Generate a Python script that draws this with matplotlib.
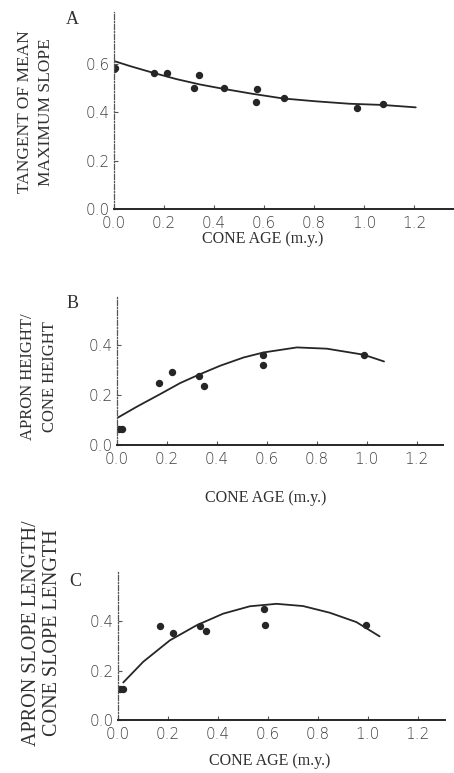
import matplotlib
matplotlib.use("Agg")
import matplotlib.pyplot as plt

# ---- Panel A data ----
a_x = [0.0, 0.004, 0.16, 0.213, 0.32, 0.34, 0.44, 0.571, 0.569, 0.679, 0.97, 1.074]
a_y = [0.58, 0.583, 0.562, 0.564, 0.50, 0.555, 0.50, 0.497, 0.442, 0.458, 0.42, 0.434]
a_fit_x = [0.0, 0.064, 0.157, 0.25, 0.343, 0.436, 0.555, 0.675, 0.808, 0.941, 1.074, 1.207]
a_fit_y = [0.613, 0.592, 0.564, 0.538, 0.516, 0.498, 0.477, 0.458, 0.446, 0.436, 0.431, 0.421]

# ---- Panel B data ----
b_x = [0.01, 0.02, 0.169, 0.22, 0.327, 0.349, 0.584, 0.583, 0.989]
b_y = [0.065, 0.065, 0.249, 0.293, 0.276, 0.237, 0.357, 0.32, 0.36]
b_fit_x = [0.003, 0.08, 0.173, 0.253, 0.327, 0.413, 0.507, 0.587, 0.72, 0.84, 0.987, 1.069]
b_fit_y = [0.109, 0.153, 0.203, 0.247, 0.28, 0.316, 0.349, 0.369, 0.389, 0.384, 0.36, 0.333]

# ---- Panel C data ----
c_x = [0.01, 0.021, 0.168, 0.221, 0.328, 0.351, 0.585, 0.588, 0.992]
c_y = [0.124, 0.124, 0.38, 0.353, 0.381, 0.36, 0.448, 0.387, 0.384]
c_fit_x = [0.021, 0.101, 0.208, 0.315, 0.421, 0.528, 0.635, 0.741, 0.848, 0.955, 1.048]
c_fit_y = [0.152, 0.236, 0.323, 0.384, 0.431, 0.461, 0.471, 0.462, 0.435, 0.397, 0.339]

x_ticks = [0.0, 0.2, 0.4, 0.6, 0.8, 1.0, 1.2]
x_ticklabels = ["0.0", "0.2", "0.4", "0.6", "0.8", "1.0", "1.2"]
a_yticks = [0.0, 0.2, 0.4, 0.6]
bc_yticks = [0.0, 0.2, 0.4]

ylabels = [("TANGENT OF MEAN", "MAXIMUM SLOPE"),
           ("APRON HEIGHT/", "CONE HEIGHT"),
           ("APRON SLOPE LENGTH/", "CONE SLOPE LENGTH")]
xlabel_text = "CONE AGE (m.y.)"
letters = ["A", "B", "C"]

W, H = 454, 773
fig = plt.figure(figsize=(W / 100, H / 100), dpi=100)

ink = "#262626"
txt = "#303030"

def add_axes(left, top, right, bottom):
    return fig.add_axes([left / W, 1 - bottom / H, (right - left) / W, (bottom - top) / H])

# (left, top, right, bottom) in pixels, xmax, ymax
specs = [
    ((114, 12, 454, 209), 1.36, 0.816),
    ((117, 297, 443, 445), 1.305, 0.59),
    ((118, 572, 445, 720), 1.31, 0.60),
]
datasets = [
    (a_x, a_y, a_fit_x, a_fit_y, a_yticks),
    (b_x, b_y, b_fit_x, b_fit_y, bc_yticks),
    (c_x, c_y, c_fit_x, c_fit_y, bc_yticks),
]
xlabel_pos = [(263, 239), (266, 498), (270, 761)]
letter_pos = [(72, 20), (73, 304), (75, 582)]
# (x line1, x line2, y centre, fontsize)
ylabel_spec = [(25, 46, 112, 12.5), (28, 50, 377, 12.0), (32, 53, 633, 14.5)]

for i, ((box, xmax, ymax), (px, py, fx, fy, yt)) in enumerate(zip(specs, datasets)):
    ax = add_axes(*box)
    ax.plot(fx, fy, color=ink, lw=1.3, solid_capstyle="round", solid_joinstyle="round")
    ax.plot(px, py, "o", color=ink, ms=4.3, mec=ink)
    ax.set_xlim(0, xmax)
    ax.set_ylim(0, ymax)
    ax.spines["top"].set_visible(False)
    ax.spines["right"].set_visible(False)
    ax.spines["left"].set_linestyle((0, (4, 1.5, 1, 1.5)))
    ax.spines["left"].set_linewidth(0.9)
    ax.spines["left"].set_color("#555555")
    ax.spines["bottom"].set_linewidth(1.4)
    ax.spines["bottom"].set_color(ink)
    ax.set_xticks(x_ticks)
    ax.set_xticklabels(x_ticklabels)
    ax.set_yticks(yt)
    ax.set_yticklabels(["%.1f" % v for v in yt])
    ax.tick_params(axis="both", direction="in", length=3, width=0.8,
                   colors="#555555", labelcolor="#404040", labelsize=11)
    ax.tick_params(axis="x", pad=5)
    ax.tick_params(axis="y", pad=3)
    for lab in ax.get_xticklabels() + ax.get_yticklabels():
        lab.set_fontfamily("DejaVu Sans")
        lab.set_fontweight("light")
    ax.patch.set_alpha(0)

    xx, xy = xlabel_pos[i]
    fig.text(xx / W, 1 - xy / H, xlabel_text, ha="center", va="center",
             family="Liberation Serif", fontsize=11.5, color=txt)
    lx, ly = letter_pos[i]
    fig.text(lx / W, 1 - ly / H, letters[i], ha="center", va="center",
             family="Liberation Serif", fontsize=13, color=txt)
    x1, x2, yc, fs = ylabel_spec[i]
    for xl, line in zip((x1, x2), ylabels[i]):
        fig.text(xl / W, 1 - yc / H, line, ha="center", va="center",
                 rotation=90, family="Liberation Serif", fontsize=fs, color=txt)

fig.savefig("out.png", dpi=100)
